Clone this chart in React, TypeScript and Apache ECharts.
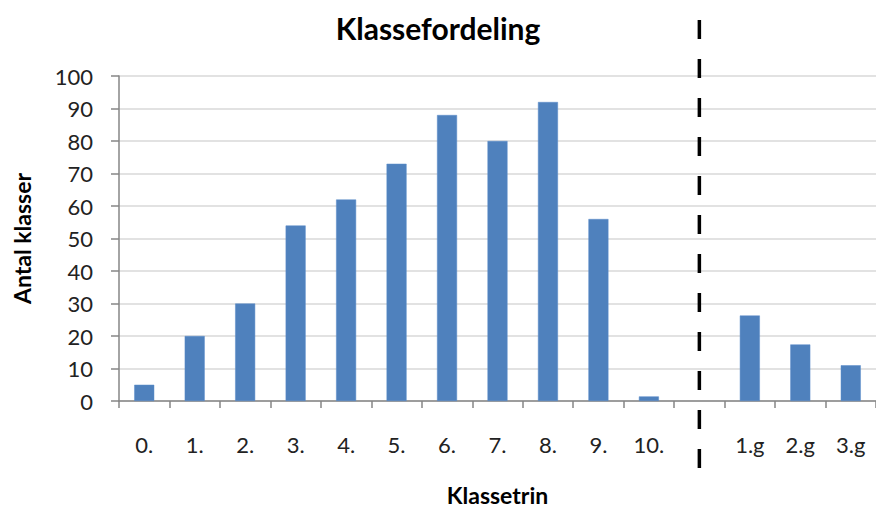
import React, { useEffect, useRef } from "react";
import * as echarts from "echarts";

const categories = ["0.", "1.", "2.", "3.", "4.", "5.", "6.", "7.", "8.", "9.", "10.", "", "1.g", "2.g", "3.g"];
const values: (number | null)[] = [5, 20, 30, 54, 62, 73, 88, 80, 92, 56, 1.4, null, 26.3, 17.4, 11];
const separatorCategory = "";
const yTicks = { min: 0, max: 100, interval: 10 };

export default function App() {
  const ref = useRef<HTMLDivElement>(null);
  useEffect(() => {
    if (!ref.current) return;
    const chart = echarts.init(ref.current, null, { renderer: "svg" });
    const font = "Lato";
    chart.setOption({
      animation: false,
      title: {
        text: "Klassefordeling",
        left: "center",
        top: 8,
        textStyle: { fontFamily: font, fontSize: 30, fontWeight: "bold", color: "#000" },
      },
      grid: { left: 119, right: -2, top: 76, bottom: 106, containLabel: false },
      xAxis: {
        type: "category",
        data: categories,
        name: "Klassetrin",
        nameLocation: "middle",
        nameGap: 82,
        nameTextStyle: { fontFamily: font, fontSize: 23, fontWeight: "bold", color: "#000" },
        axisLine: { lineStyle: { color: "#868686", width: 1.5 } },
        axisTick: { show: true, length: 7, lineStyle: { color: "#868686", width: 1.5 } },
        axisLabel: { fontFamily: font, fontSize: 22, color: "#222", margin: 32 },
      },
      yAxis: {
        type: "value",
        min: yTicks.min,
        max: yTicks.max,
        interval: yTicks.interval,
        name: "Antal klasser",
        nameLocation: "middle",
        nameGap: 86,
        nameRotate: 90,
        nameTextStyle: { fontFamily: font, fontSize: 23, fontWeight: "bold", color: "#000" },
        axisLine: { show: true, lineStyle: { color: "#868686", width: 1.5 } },
        axisTick: { show: true, length: 8, lineStyle: { color: "#868686", width: 1.5 } },
        axisLabel: { fontFamily: font, fontSize: 22, color: "#222", margin: 26 },
        splitLine: { lineStyle: { color: "#d9d9d9", width: 1.5 } },
      },
      series: [
        {
          type: "bar",
          data: values,
          barWidth: 20,
          itemStyle: { color: "#4f81bd", borderColor: "#5b8ccb", borderWidth: 0.5 },
        },
      ],
    });
    const idx = categories.indexOf(separatorCategory);
    const x = chart.convertToPixel({ xAxisIndex: 0 }, idx) as number;
    chart.setOption({
      graphic: [
        {
          type: "line",
          shape: { x1: x, y1: 20, x2: x, y2: 470 },
          style: { stroke: "#000", lineWidth: 3.5, lineDash: [19, 20] },
          z: 100,
        },
      ],
    });
    return () => chart.dispose();
  }, []);
  return <div ref={ref} style={{ width: 876, height: 511, position: "absolute", left: 0, top: 0 }} />;
}
